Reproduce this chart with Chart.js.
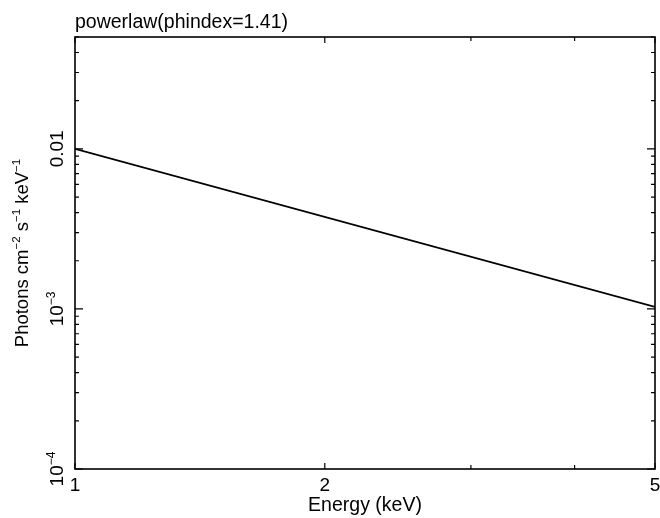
<!DOCTYPE html>
<html>
<head>
<meta charset="utf-8">
<script src="https://cdn.jsdelivr.net/npm/chart.js@4.4.1/dist/chart.umd.min.js"></script>
<style>
  html, body { margin: 0; padding: 0; background: #fff; }
  #wrap { width: 660px; height: 518px; }
</style>
</head>
<body>
<div id="wrap"><canvas id="plot" width="660" height="518"></canvas></div>
<script>
// values
const energy = [1, 5];
const flux = [0.01, 0.00103];
const xTicks = [1, 2, 5];
const xMinor = [3, 4];
const yTicks = [1e-4, 1e-3, 1e-2];
const yTickLabels = [["10", "−4"], ["10", "−3"], ["0.01", ""]];
const titleText = "powerlaw(phindex=1.41)";
const xTitle = "Energy (keV)";
// segments: [text, isSuperscript]
const yTitle = [["Photons cm", 0], ["−2", 1], [" s", 0], ["−1", 1], [" keV", 0], ["−1", 1]];

const FONT = "Liberation Sans, Arial, Helvetica, sans-serif";

function drawSegs(ctx, segs, size, supSize) {
  // measure then draw centered at origin, baseline at 0
  let total = 0;
  segs.forEach(s => {
    ctx.font = (s[1] ? supSize : size) + "px " + FONT;
    total += ctx.measureText(s[0]).width;
  });
  let x = -total / 2;
  segs.forEach(s => {
    ctx.font = (s[1] ? supSize : size) + "px " + FONT;
    ctx.fillText(s[0], x, s[1] ? -size * 0.42 : 0);
    x += ctx.measureText(s[0]).width;
  });
}

const framePlugin = {
  id: 'frame',
  afterDraw(chart) {
    const ctx = chart.ctx;
    const a = chart.chartArea;
    const xs = chart.scales.x, ys = chart.scales.y;
    ctx.save();
    ctx.strokeStyle = '#000';
    ctx.fillStyle = '#000';
    ctx.lineWidth = 1.6;
    ctx.strokeRect(a.left, a.top, a.right - a.left, a.bottom - a.top);

    // x ticks, bottom and top, inward
    ctx.lineWidth = 1.2;
    ctx.beginPath();
    xTicks.concat(xMinor).forEach(v => {
      const len = xMinor.includes(v) ? 4 : 6;
      const px = xs.getPixelForValue(v);
      ctx.moveTo(px, a.bottom); ctx.lineTo(px, a.bottom - len);
      ctx.moveTo(px, a.top); ctx.lineTo(px, a.top + len);
    });
    // y ticks, decades and minors
    for (let e = -4; e <= -2; e++) {
      for (let m = 1; m <= 9; m++) {
        const v = m * Math.pow(10, e);
        if (v > ys.max * 1.0001) break;
        const len = m === 1 ? 8 : 4;
        const py = ys.getPixelForValue(v);
        ctx.moveTo(a.left, py); ctx.lineTo(a.left + len, py);
        ctx.moveTo(a.right, py); ctx.lineTo(a.right - len, py);
      }
    }
    ctx.stroke();

    // x tick labels
    ctx.font = "19px " + FONT;
    ctx.textAlign = 'center';
    ctx.textBaseline = 'alphabetic';
    xTicks.forEach(v => {
      ctx.fillText(String(v), xs.getPixelForValue(v), 491);
    });

    // y tick labels, rotated
    ctx.textAlign = 'left';
    yTicks.forEach((v, i) => {
      ctx.save();
      ctx.translate(63, ys.getPixelForValue(v));
      ctx.rotate(-Math.PI / 2);
      drawSegs(ctx, [[yTickLabels[i][0], 0], [yTickLabels[i][1], 1]], 19, 12);
      ctx.restore();
    });

    // titles
    ctx.font = "19.5px " + FONT;
    ctx.textAlign = 'left';
    ctx.fillText(titleText, a.left, 28);
    ctx.textAlign = 'center';
    ctx.fillText(xTitle, (a.left + a.right) / 2, 511);

    ctx.save();
    ctx.translate(28, (a.top + a.bottom) / 2);
    ctx.rotate(-Math.PI / 2);
    ctx.textAlign = 'left';
    drawSegs(ctx, yTitle, 18.5, 11.5);
    ctx.restore();
    ctx.restore();
  }
};

new Chart(document.getElementById('plot'), {
  type: 'line',
  data: {
    datasets: [{
      data: energy.map((e, i) => ({ x: e, y: flux[i] })),
      borderColor: '#000',
      borderWidth: 1.8,
      pointRadius: 0,
      fill: false,
      tension: 0
    }]
  },
  options: {
    responsive: false,
    animation: false,
    layout: { padding: { left: 75, right: 5, top: 37, bottom: 49 } },
    plugins: { legend: { display: false }, tooltip: { enabled: false } },
    scales: {
      x: { type: 'logarithmic', min: 1, max: 5, display: false },
      y: { type: 'logarithmic', min: 1e-4, max: 0.05, display: false }
    }
  },
  plugins: [framePlugin]
});
</script>
</body>
</html>
